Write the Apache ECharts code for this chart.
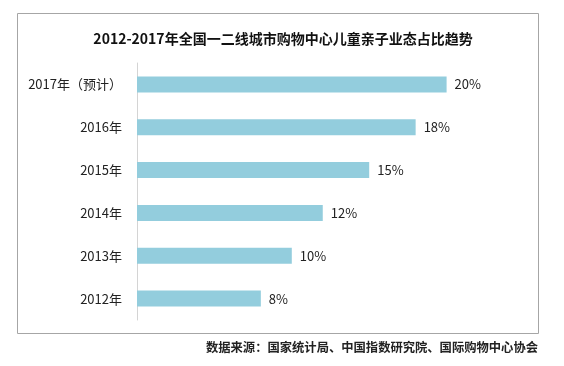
<!DOCTYPE html>
<html><head><meta charset="utf-8">
<script src="https://cdn.jsdelivr.net/npm/echarts@6/dist/echarts.min.js"></script>
<style>html,body{margin:0;padding:0;background:#fff}#c{width:564px;height:366px}</style>
</head><body><div id="c"></div>
<script>
const categories = ['2012年', '2013年', '2014年', '2015年', '2016年', '2017年（预计）'];
const values = [8, 10, 12, 15, 18, 20];
const titleText = '2012-2017年全国一二线城市购物中心儿童亲子业态占比趋势';
const sourceText = '数据来源：国家统计局、中国指数研究院、国际购物中心协会';

const chart = echarts.init(document.getElementById('c'));
const font = '"Noto Sans CJK SC", "Noto Sans", sans-serif';
chart.setOption({
  animation: false,
  title: {
    text: titleText, left: 278, top: 27, textAlign: 'center',
    textStyle: { fontFamily: font, fontSize: 14, fontWeight: 'bold', color: '#111' }
  },
  graphic: [
    { type: 'rect', shape: { x: 17.5, y: 13.5, width: 521, height: 320 },
      style: { fill: 'none', stroke: '#a6a6a6', lineWidth: 1 }, z: -1 },
    { type: 'text', right: 26, top: 341,
      style: { text: sourceText, fontFamily: font, fontSize: 12.3, fontWeight: 'bold', fill: '#222' } }
  ],
  grid: { left: 137, right: 40, top: 63, bottom: 46, containLabel: false },
  xAxis: { type: 'value', min: 0, max: 25, show: false },
  yAxis: {
    type: 'category', data: categories,
    axisLine: { show: true, lineStyle: { color: '#d4d4d4', width: 1 } },
    axisTick: { show: false },
    axisLabel: { margin: 15, fontFamily: font, fontSize: 13, color: '#222' }
  },
  series: [{
    type: 'bar', data: values, barWidth: 16,
    itemStyle: { color: '#93CDDD' },
    label: { show: true, position: 'right', distance: 8, formatter: '{c}%',
      fontFamily: font, fontSize: 13, color: '#222' }
  }]
});
</script></body></html>
